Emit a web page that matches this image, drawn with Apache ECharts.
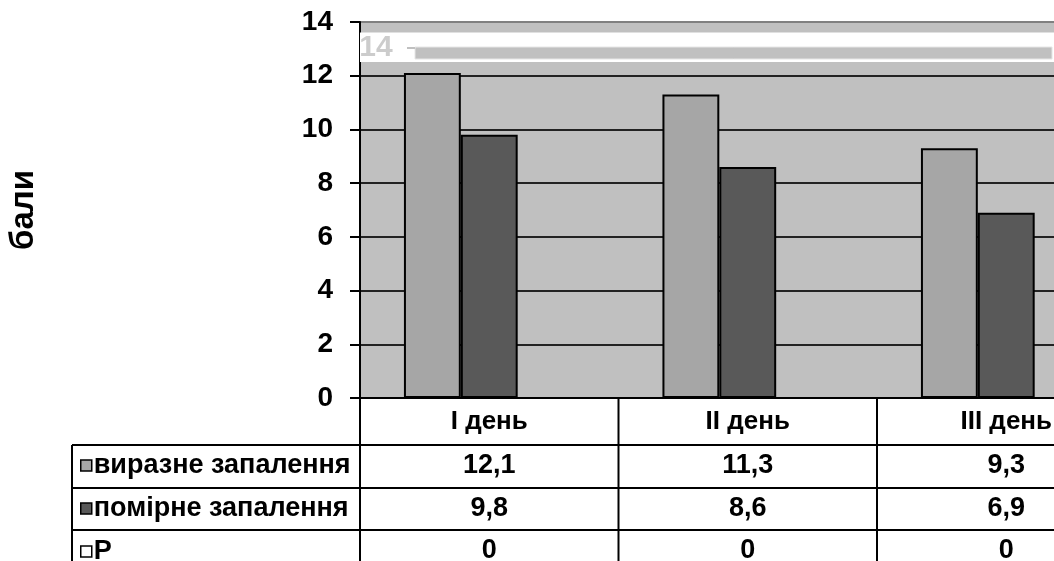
<!DOCTYPE html>
<html>
<head>
<meta charset="utf-8">
<style>
  html, body { margin: 0; padding: 0; background: #fff; }
  #chart { width: 1054px; height: 561px; }
</style>
<script src="https://cdn.jsdelivr.net/npm/echarts@6/dist/echarts.min.js"></script>
</head>
<body>
<div id="chart"></div>
<script>
// Days of observation and inflammation scores (бали)
const categories = ['I день', 'II день', 'III день'];
const seriesNames = ['виразне запалення', 'помірне запалення', 'P'];
const strongValues = [12.1, 11.3, 9.3];
const moderateValues = [9.8, 8.6, 6.9];
const pValues = [0, 0, 0];
const yTickLabels = ['0', '2', '4', '6', '8', '10', '12', '14'];

const seriesValues = [strongValues, moderateValues, pValues];
const seriesColors = ['#a6a6a6', '#595959', '#ffffff'];
const FONT = '"Liberation Sans", Arial, sans-serif';

const chart = echarts.init(document.getElementById('chart'), null, { renderer: 'canvas' });

const option = {
  backgroundColor: '#ffffff',
  animation: false,
  grid: {
    left: 360, top: 22, width: 775.5, height: 376,
    outerBoundsMode: 'none',
    show: true, backgroundColor: '#c0c0c0', borderWidth: 0
  },
  legend: {
    orient: 'vertical',
    left: 80, top: 452, height: 140,
    padding: 0,
    itemWidth: 11, itemHeight: 11, itemGap: 16,
    icon: 'rect',
    selectedMode: false,
    itemStyle: { borderColor: '#000', borderWidth: 1.5 },
    textStyle: { color: '#000', fontSize: 27, fontWeight: 'bold', fontFamily: FONT, lineHeight: 27, padding: [0, 0, 0, -3] },
    data: seriesNames
  },
  xAxis: {
    type: 'category',
    data: categories,
    axisLine: { lineStyle: { color: '#000', width: 2 } },
    axisTick: { show: false },
    axisLabel: { color: '#000', fontSize: 26, fontWeight: 'bold', fontFamily: FONT, margin: 11 }
  },
  yAxis: {
    type: 'value',
    min: 0, max: 14, interval: 2,
    name: 'бали',
    nameLocation: 'middle',
    nameGap: 320,
    nameRotate: 90,
    nameTextStyle: { color: '#000', fontSize: 33, fontWeight: 'bold', fontFamily: FONT },
    axisLine: { show: true, lineStyle: { color: '#000', width: 2 } },
    axisTick: { show: true, length: 10, lineStyle: { color: '#000', width: 2 } },
    axisLabel: {
      color: '#000', fontSize: 28, fontWeight: 'bold', fontFamily: FONT, margin: 27,
      formatter: (v) => yTickLabels[Math.round(v / 2)]
    },
    splitLine: {
      lineStyle: {
        color: ['#000', '#222', '#222', '#222', '#222', '#222', '#222', '#808080'],
        width: 2
      }
    }
  },
  series: seriesNames.map((name, i) => ({
    name: name,
    type: 'bar',
    data: seriesValues[i],
    barGap: '0%',
    barCategoryGap: '34%',
    itemStyle: { color: seriesColors[i], borderColor: '#000', borderWidth: 2 }
  }))
};

chart.setOption(option);

// Data table under the plot, aligned with the category bands of the x axis
const cx0 = chart.convertToPixel({ xAxisIndex: 0 }, 0);
const cx1 = chart.convertToPixel({ xAxisIndex: 0 }, 1);
const band = cx1 - cx0;
const yBase = chart.convertToPixel({ yAxisIndex: 0 }, 0);
const yTop = chart.convertToPixel({ yAxisIndex: 0 }, 14);
const plotLeft = cx0 - band / 2;
const tableLeft = 72;
const rowLines = [yBase + 47, yBase + 90, yBase + 132];
const rowCenters = [yBase + 68, yBase + 111, yBase + 153];
const W = chart.getWidth(), H = chart.getHeight();

const lineStyle = { stroke: '#000', lineWidth: 2 };
const elements = [];

for (let i = 0; i <= categories.length; i++) {
  const x = plotLeft + i * band;
  elements.push({ type: 'line', shape: { x1: x, y1: yBase, x2: x, y2: H }, style: lineStyle, z: 10 });
}
elements.push({ type: 'line', shape: { x1: tableLeft, y1: rowLines[0], x2: tableLeft, y2: H }, style: lineStyle, z: 10 });
rowLines.forEach((y) => {
  elements.push({ type: 'line', shape: { x1: tableLeft, y1: y, x2: W, y2: y }, style: lineStyle, z: 10 });
});

seriesValues.forEach((vals, s) => {
  vals.forEach((v, c) => {
    elements.push({
      type: 'text',
      x: chart.convertToPixel({ xAxisIndex: 0 }, c),
      y: rowCenters[s],
      style: {
        text: String(v).replace('.', ','),
        fill: '#000', font: 'bold 27px ' + FONT,
        align: 'center', verticalAlign: 'middle'
      },
      z: 10
    });
  });
});

// Light overlay band across the top of the plot with a faded repeat of the upper tick
elements.push({
  type: 'rect', shape: { x: plotLeft, y: yTop + 10.5, width: W - plotLeft, height: 29.5 },
  style: { fill: '#ffffff' }, z: 5
});
elements.push({
  type: 'rect', shape: { x: plotLeft + 55, y: yTop + 25, width: W - plotLeft - 57, height: 12 },
  style: { fill: '#c0c0c0', stroke: '#e6e6e6', lineWidth: 1 }, z: 6
});
elements.push({
  type: 'rect', shape: { x: plotLeft + 47, y: yTop + 25, width: 8, height: 2 },
  style: { fill: '#c0c0c0' }, z: 6
});
elements.push({
  type: 'text', x: plotLeft + 16, y: yTop + 26,
  style: { text: '14', fill: '#cccccc', font: 'bold 30px ' + FONT, align: 'center', verticalAlign: 'middle' },
  z: 6
});

chart.setOption({ graphic: { elements: elements } });
</script>
</body>
</html>
